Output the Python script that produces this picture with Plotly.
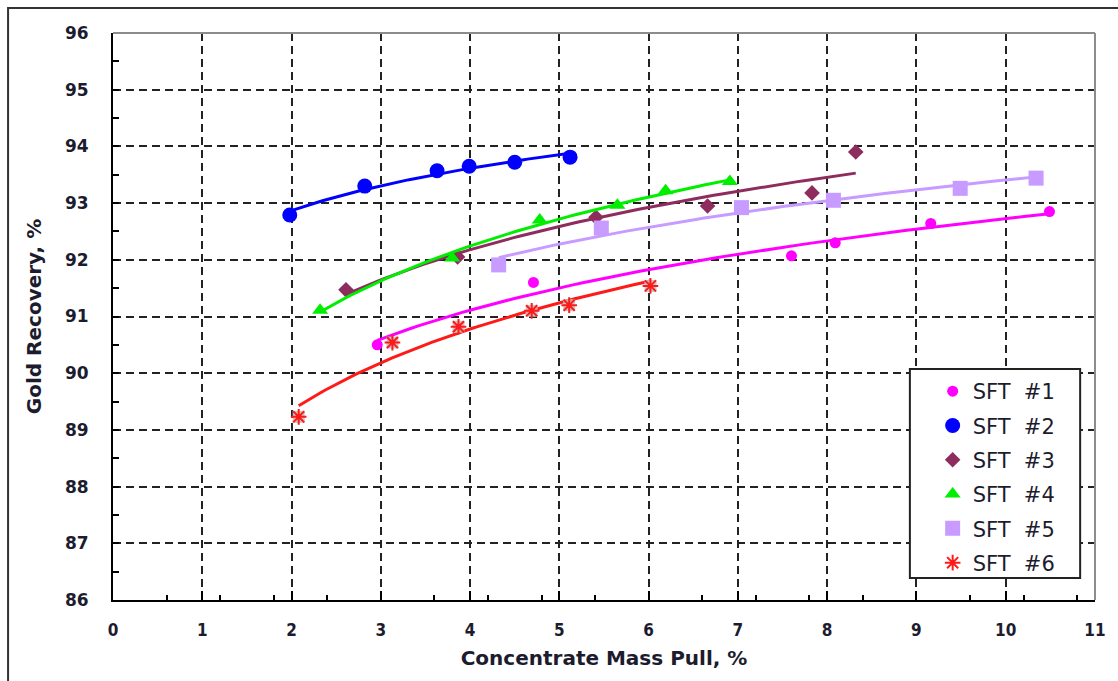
import numpy as np
import plotly.graph_objects as go

# Concentrate mass pull (%) and gold recovery (%) for each flotation test
sft1_x = [2.96, 4.71, 7.60, 8.09, 9.16, 10.49]
sft1_y = [90.50, 91.60, 92.07, 92.30, 92.64, 92.85]

sft2_x = [1.98, 2.82, 3.63, 3.99, 4.50, 5.12]
sft2_y = [92.79, 93.30, 93.57, 93.65, 93.72, 93.81]

sft3_x = [2.61, 3.86, 5.41, 6.66, 7.83, 8.32]
sft3_y = [91.47, 92.05, 92.75, 92.95, 93.18, 93.90]

sft4_x = [2.32, 3.80, 4.78, 5.65, 6.19, 6.91]
sft4_y = [91.11, 92.03, 92.70, 92.96, 93.22, 93.38]

sft5_x = [4.32, 5.47, 7.04, 8.07, 9.49, 10.34]
sft5_y = [91.91, 92.56, 92.92, 93.05, 93.26, 93.44]

sft6_x = [2.08, 3.13, 3.87, 4.69, 5.11, 6.02]
sft6_y = [89.23, 90.54, 90.82, 91.10, 91.20, 91.54]

names = ["SFT #1", "SFT #2", "SFT #3", "SFT #4", "SFT #5", "SFT #6"]
xs = [sft1_x, sft2_x, sft3_x, sft4_x, sft5_x, sft6_x]
ys = [sft1_y, sft2_y, sft3_y, sft4_y, sft5_y, sft6_y]

colors = ["#ff00ff", "#0000ff", "#8e2c5e", "#00ee00", "#c79bff", "#ff1a1a"]
symbols = ["circle", "circle", "diamond", "triangle-up", "square", "asterisk-open"]
sizes = [11, 15, 12, 14, 15, 13]

fig = go.Figure()


def log_trend(x, y, n=80):
    """Least-squares logarithmic trendline y = a*ln(x) + b over the data span."""
    x = np.asarray(x, float)
    y = np.asarray(y, float)
    a, b = np.polyfit(np.log(x), y, 1)
    xt = np.linspace(x.min(), x.max(), n)
    return xt, a * np.log(xt) + b


for i, (name, x, y) in enumerate(zip(names, xs, ys)):
    xt, yt = log_trend(x, y)
    fig.add_trace(go.Scatter(
        x=xt, y=yt, mode="lines",
        line=dict(color=colors[i], width=3),
        showlegend=False, hoverinfo="skip", legendgroup=f"g{i}",
    ))
    label = name.replace(" ", "\u00a0\u00a0")
    if name == "SFT #6":
        # grey square backing behind the asterisk marker
        fig.add_trace(go.Scatter(
            x=x, y=y, mode="markers",
            marker=dict(symbol="square", size=12, color="#c0c0c0", opacity=0.9),
            showlegend=False, hoverinfo="skip", legendgroup=f"g{i}",
        ))
        fig.add_trace(go.Scatter(
            x=x, y=y, mode="markers", name=label, legendgroup=f"g{i}",
            marker=dict(symbol=symbols[i], size=sizes[i],
                        line=dict(color=colors[i], width=2), color=colors[i]),
        ))
    else:
        fig.add_trace(go.Scatter(
            x=x, y=y, mode="markers", name=label, legendgroup=f"g{i}",
            marker=dict(symbol=symbols[i], size=sizes[i], color=colors[i],
                        line=dict(width=0)),
        ))

ink = "#1c1c2e"
title_font = dict(family="DejaVu Sans", size=20, color=ink, weight="bold")
grid = dict(showgrid=True, gridcolor="#222222", gridwidth=2, griddash="8px,5px")

fig.update_xaxes(
    range=[0, 11], dtick=1, tick0=0, **grid,
    showline=True, linecolor="black", linewidth=2,
    ticks="inside", ticklen=9, tickwidth=2, tickcolor="black",
    minor=dict(dtick=0.6, tick0=0, ticks="inside", ticklen=5,
               tickwidth=2, tickcolor="black", showgrid=False),
    zeroline=False,
    tickfont=dict(family="DejaVu Sans Condensed", size=17, color=ink, weight="bold"),
    ticklabelstandoff=14,
    title=dict(text="Concentrate Mass Pull, %", font=title_font, standoff=12),
)
fig.update_yaxes(
    range=[86, 96], dtick=1, tick0=86, **grid,
    showline=True, linecolor="black", linewidth=2,
    ticks="inside", ticklen=6, tickwidth=2, tickcolor="black",
    minor=dict(dtick=0.5, tick0=86, ticks="inside", ticklen=6,
               tickwidth=2, tickcolor="black", showgrid=False),
    zeroline=False,
    tickfont=dict(family="DejaVu Sans", size=17, color=ink, weight="bold"),
    ticklabelstandoff=19,
    title=dict(text="Gold Recovery, %", font=title_font, standoff=18),
)

L, R, T, B = 113, 13, 33, 81
W, H = 1118, 681
pw = W - L - R
ph = H - T - B


def px_x(p):
    return (p - L) / pw


def px_y(p):
    return (H - B - p) / ph


shapes = [
    # plot area top and right edges
    dict(type="line", xref="paper", yref="paper", x0=0, x1=1, y0=1, y1=1,
         line=dict(color="#8c8c8c", width=2), layer="above"),
    dict(type="line", xref="paper", yref="paper", x0=1, x1=1, y0=0, y1=1,
         line=dict(color="#8c8c8c", width=2), layer="above"),
    # legend frame
    dict(type="rect", xref="paper", yref="paper",
         x0=px_x(918), x1=px_x(1090), y0=px_y(578), y1=px_y(369),
         line=dict(color="#222222", width=2), fillcolor="white", layer="above"),
    # chart frame
    dict(type="rect", xref="paper", yref="paper",
         x0=px_x(7), x1=px_x(W + 20),
         y0=px_y(H + 20), y1=px_y(8),
         line=dict(color="#333333", width=2), layer="above"),
]

fig.update_layout(
    width=W, height=H,
    margin=dict(l=L, r=R, t=T, b=B, pad=0),
    paper_bgcolor="white", plot_bgcolor="white",
    shapes=shapes,
    showlegend=True,
    legend=dict(
        x=px_x(941), y=px_y(371), xanchor="left", yanchor="top",
        bgcolor="rgba(0,0,0,0)", borderwidth=0,
        font=dict(family="DejaVu Sans", size=21, color=ink),
        traceorder="grouped", tracegroupgap=4,
        itemwidth=30,
    ),
)

fig.write_html("out.html")
